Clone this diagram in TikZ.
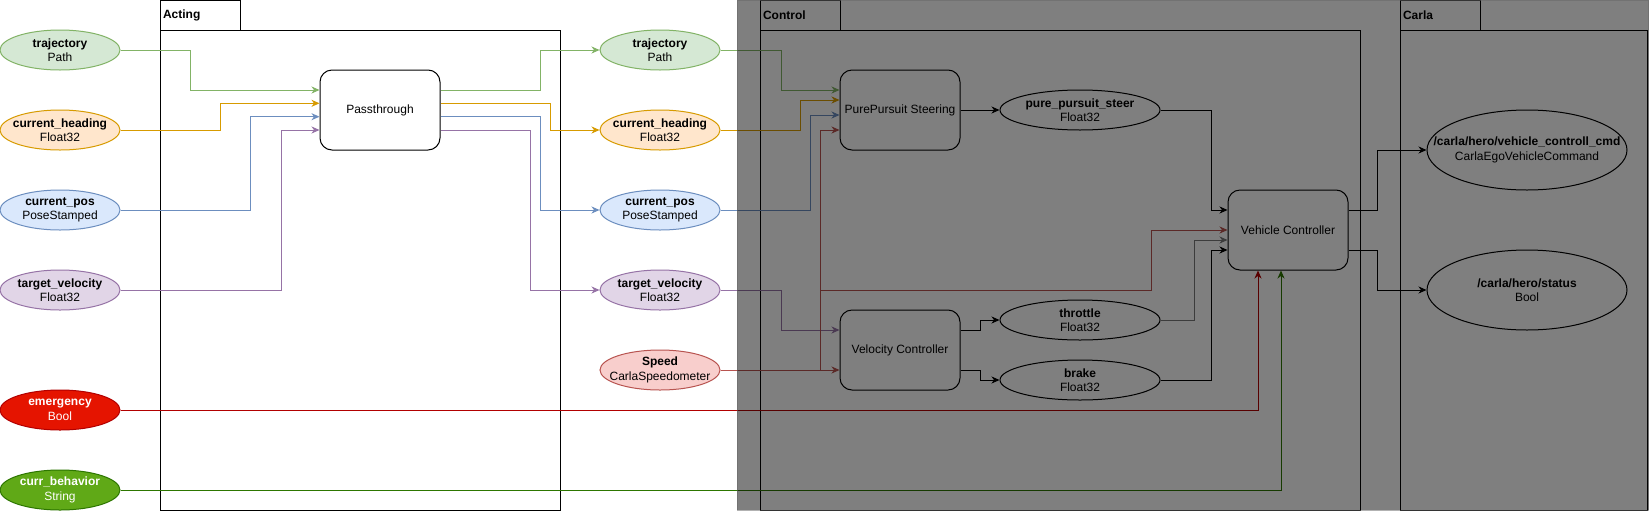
\documentclass[tikz,border=0pt]{standalone}
\usepackage{fontspec}
\setmainfont{Liberation Sans}
\usetikzlibrary{arrows.meta,shapes.geometric}
\definecolor{gfill}{HTML}{D5E8D4}\definecolor{gline}{HTML}{82B366}
\definecolor{ofill}{HTML}{FFE6CC}\definecolor{oline}{HTML}{D79B00}
\definecolor{bfill}{HTML}{DAE8FC}\definecolor{bline}{HTML}{6C8EBF}
\definecolor{pfill}{HTML}{E1D5E7}\definecolor{pline}{HTML}{9673A6}
\definecolor{rfill}{HTML}{F8CECC}\definecolor{rline}{HTML}{B85450}
\definecolor{efill}{HTML}{E51400}\definecolor{eline}{HTML}{B20000}
\definecolor{cfill}{HTML}{60A917}\definecolor{cline}{HTML}{2D7600}
\definecolor{midgray}{HTML}{7A7A7A}
\begin{document}
\begin{tikzpicture}[x=1pt,y=-1pt,
  tx/.style={font=\fontsize{12}{14.5}\selectfont, align=center},
  topic/.style={ellipse, draw, line width=1pt, minimum width=120pt, minimum height=40pt, inner sep=0pt, fill=white},
  tgreen/.style={fill=gfill, draw=gline},
  torange/.style={fill=ofill, draw=oline},
  tblue/.style={fill=bfill, draw=bline},
  tpurple/.style={fill=pfill, draw=pline},
  tred/.style={fill=rfill, draw=rline},
  temerg/.style={fill=efill, draw=eline},
  tbehav/.style={fill=cfill, draw=cline},
  proc/.style={draw, line width=1pt, rounded corners=12pt, minimum width=120pt, minimum height=80pt, fill=white, font=\fontsize{12}{14.5}\selectfont},
  cont/.style={draw, line width=1pt, inner sep=0pt},
  tab/.style={draw, line width=1pt, minimum height=30pt, text width=74pt, inner xsep=3pt, align=left, font=\fontsize{12}{14.5}\selectfont\bfseries},
  arr/.style={line width=1pt, -{Stealth[length=8pt,width=7pt,inset=2.5pt]}},
]
\useasboundingbox (0,0) rectangle (1649,512);
\fill[white] (0,0) rectangle (1649,512);

% containers
\node[cont, minimum width=400pt, minimum height=480pt] (actbody) at (360,270) {};
\node[tab] (acttab) at (200,15) {Acting};
\node[cont, minimum width=600pt, minimum height=480pt] (ctlbody) at (1060,270) {};
\node[tab] (ctltab) at (800,15) {Control};
\node[cont, minimum width=247pt, minimum height=480pt] (carbody) at (1523.5,270) {};
\node[tab] (cartab) at (1440,15) {Carla};

% left topics
\node[topic, tgreen, label={[tx]center:{\textbf{trajectory}\\Path}}] (trajL) at (60,50) {};
\node[topic, torange, label={[tx]center:{\textbf{current\_heading}\\Float32}}] (headL) at (60,130) {};
\node[topic, tblue, label={[tx]center:{\textbf{current\_pos}\\PoseStamped}}] (posL) at (60,210) {};
\node[topic, tpurple, label={[tx]center:{\textbf{target\_velocity}\\Float32}}] (velL) at (60,290) {};
\node[topic, temerg, label={[tx,text=white]center:{\textbf{emergency}\\Bool}}] (emerg) at (60,410) {};
\node[topic, tbehav, label={[tx,text=white]center:{\textbf{curr\_behavior}\\String}}] (behav) at (60,490) {};

% passthrough
\node[proc] (pass) at (380,110) {Passthrough};

% middle topics
\node[topic, tgreen, label={[tx]center:{\textbf{trajectory}\\Path}}] (trajM) at (660,50) {};
\node[topic, torange, label={[tx]center:{\textbf{current\_heading}\\Float32}}] (headM) at (660,130) {};
\node[topic, tblue, label={[tx]center:{\textbf{current\_pos}\\PoseStamped}}] (posM) at (660,210) {};
\node[topic, tpurple, label={[tx]center:{\textbf{target\_velocity}\\Float32}}] (velM) at (660,290) {};
\node[topic, tred, label={[tx]center:{\textbf{Speed}\\CarlaSpeedometer}}] (speed) at (660,370) {};

% control
\node[proc] (pps) at (900,110) {PurePursuit Steering};
\node[proc] (vc) at (900,350) {Velocity Controller};
\node[topic, minimum width=160pt, label={[tx]center:{\textbf{pure\_pursuit\_steer}\\Float32}}] (ppsteer) at (1080,110) {};
\node[topic, minimum width=160pt, label={[tx]center:{\textbf{throttle}\\Float32}}] (throttle) at (1080,320) {};
\node[topic, minimum width=160pt, label={[tx]center:{\textbf{brake}\\Float32}}] (brake) at (1080,380) {};
\node[proc] (vehctl) at (1288,230) {Vehicle Controller};

% carla
\node[topic, minimum width=200pt, minimum height=80pt, label={[tx]center:{\textbf{/carla/hero/vehicle\_controll\_cmd}\\CarlaEgoVehicleCommand}}] (cmd) at (1527,150) {};
\node[topic, minimum width=200pt, minimum height=80pt, label={[tx]center:{\textbf{/carla/hero/status}\\Bool}}] (status) at (1527,290) {};

% left -> passthrough
\draw[arr, gline] (trajL.east) -| (190,90) -- ([yshift=20pt]pass.west);
\draw[arr, oline] (headL.east) -| (220,103.3) -- ([yshift=6.7pt]pass.west);
\draw[arr, bline] (posL.east) -| (250,116.7) -- ([yshift=-6.7pt]pass.west);
\draw[arr, pline] (velL.east) -| (281,130) -- ([yshift=-20pt]pass.west);

% passthrough -> middle
\draw[arr, gline] ([yshift=20pt]pass.east) -- (540,90) |- (trajM.west);
\draw[arr, oline] ([yshift=6.7pt]pass.east) -- (550,103.3) |- (headM.west);
\draw[arr, bline] ([yshift=-6.7pt]pass.east) -- (540,116.7) |- (posM.west);
\draw[arr, pline] ([yshift=-20pt]pass.east) -- (530,130) |- (velM.west);

% middle -> control
\draw[arr, gline] (trajM.east) -| (781,90) -- ([yshift=20pt]pps.west);
\draw[arr, oline] (headM.east) -| (800,100) -- ([yshift=10pt]pps.west);
\draw[arr, bline] (posM.east) -| (810,115) -- ([yshift=-5pt]pps.west);
\draw[arr, rline] (speed.east) -| (820,130) -- ([yshift=-20pt]pps.west);
\draw[arr, pline] (velM.east) -| (781,330) -- ([yshift=20pt]vc.west);
\draw[arr, rline] (speed.east) -- ([yshift=-20pt]vc.west);
\draw[arr, rline] (speed.east) -| (820,290) -| (1151,230) -- (vehctl.west);

% velocity controller outputs
\draw[arr] ([yshift=20pt]vc.east) -- (980,330) |- (throttle.west);
\draw[arr] ([yshift=-20pt]vc.east) -- (980,370) |- (brake.west);
\draw[arr] (pps.east) -- (ppsteer.west);

% into vehicle controller
\draw[arr] (ppsteer.east) -| (1211,210) -- ([yshift=20pt]vehctl.west);
\draw[arr, midgray] (throttle.east) -| (1194,240) -- ([yshift=-10pt]vehctl.west);
\draw[arr] (brake.east) -| (1211,250) -- ([yshift=-20pt]vehctl.west);
\draw[arr, eline] (emerg.east) -| ([xshift=-30pt]vehctl.south);
\draw[arr, cline] (behav.east) -| ([xshift=-7pt]vehctl.south);

% vehicle controller outputs
\draw[arr] ([yshift=20pt]vehctl.east) -- (1377,210) |- (cmd.west);
\draw[arr] ([yshift=-20pt]vehctl.east) -- (1377,250) |- (status.west);

% dimming overlay
\fill[black, opacity=0.5] (737,0) rectangle (1649,510);
\draw[black!60, opacity=0.5, line width=0.8pt] (737,0.4) rectangle (1648.6,510);
\end{tikzpicture}
\end{document}
